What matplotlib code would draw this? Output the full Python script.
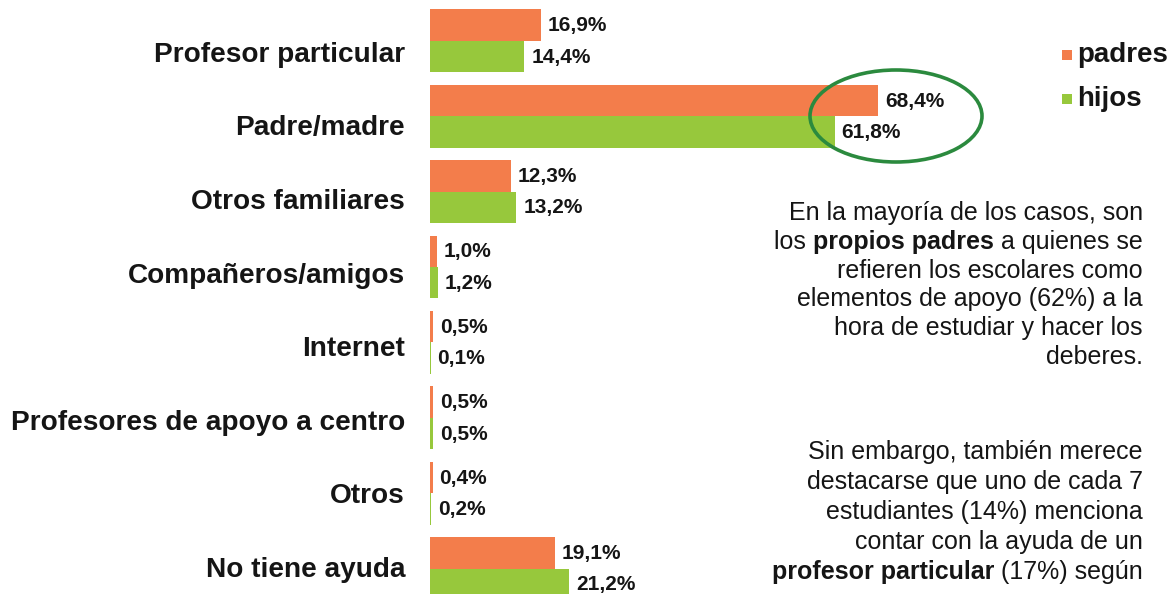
import matplotlib
matplotlib.use("Agg")
import matplotlib.pyplot as plt
from matplotlib.patches import Ellipse, Rectangle
import numpy as np

categories = ["Profesor particular", "Padre/madre", "Otros familiares",
              "Compañeros/amigos", "Internet", "Profesores de apoyo a centro",
              "Otros", "No tiene ayuda"]
padres = [16.9, 68.4, 12.3, 1.0, 0.5, 0.5, 0.4, 19.1]
hijos = [14.4, 61.8, 13.2, 1.2, 0.1, 0.5, 0.2, 21.2]
series_names = ["padres", "hijos"]

block1 = [
    [("En la mayoría de los casos, son", "normal")],
    [("los ", "normal"), ("propios padres", "bold"), (" a quienes se", "normal")],
    [("refieren los escolares como", "normal")],
    [("elementos de apoyo (62%) a la", "normal")],
    [("hora de estudiar y hacer los", "normal")],
    [("deberes.", "normal")],
]
block2 = [
    [("Sin embargo, también merece", "normal")],
    [("destacarse que uno de cada 7", "normal")],
    [("estudiantes (14%) menciona", "normal")],
    [("contar con la ayuda de un", "normal")],
    [("profesor particular", "bold"), (" (17%) según", "normal")],
]

ORANGE = "#F37D4B"
GREEN = "#97C83C"
ELLIPSE = "#2B8A3E"
TXT = "#151515"
FONT = "Liberation Sans"

W, H = 1170, 594
fig = plt.figure(figsize=(W / 100, H / 100), dpi=100)
fig.patch.set_facecolor("white")

# axes spans from x=430 px to right edge, full height
ax = fig.add_axes([430 / W, 0, 1 - 430 / W, 1])
px_per_unit_x = 6.55
ax.set_xlim(0, (W - 430) / px_per_unit_x)
group_px = 75.4
first_px = 40.7
ax.set_ylim((H - first_px) / group_px, -first_px / group_px)

n = len(categories)
idx = np.arange(n)
bh = 31.4 / group_px
ax.barh(idx - bh / 2, padres, height=bh, color=ORANGE, label=series_names[0])
ax.barh(idx + bh / 2, hijos, height=bh, color=GREEN, label=series_names[1])

def fmt(v):
    return f"{v:.1f}".replace(".", ",") + "%"

for i in range(n):
    for v, yc in ((padres[i], i - bh / 2), (hijos[i], i + bh / 2)):
        ax.annotate(fmt(v), xy=(v, yc), xytext=(5, -0.5), textcoords="offset points",
                    va="center", ha="left", fontsize=15, fontweight="bold",
                    family=FONT, color=TXT)

# category labels (positions in px from top, converted to data units)
label_px = 51.7 + idx * 73.6
label_pos = (label_px - first_px) / group_px
ax.set_yticks(label_pos)
ax.set_yticklabels(categories, fontsize=20.2, fontweight="bold", family=FONT, color=TXT)
ax.tick_params(axis="y", length=0, pad=18)
ax.set_xticks([])
for s in ax.spines.values():
    s.set_visible(False)

# ellipse highlight
fig.patches.append(Ellipse((896 / W, 1 - 116 / H), 172 / W, 92 / H,
                           transform=fig.transFigure, fill=False,
                           edgecolor=ELLIPSE, linewidth=2.6, zorder=10))

# legend
for k, (name, col, yc) in enumerate(((series_names[0], ORANGE, 55), (series_names[1], GREEN, 99))):
    fig.patches.append(Rectangle((1062 / W, 1 - (yc + 5) / H), 10 / W, 10 / H,
                                 transform=fig.transFigure, facecolor=col, edgecolor="none"))
    fig.text(1077 / W, 1 - yc / H, name, ha="left", va="center", fontsize=20,
             fontweight="bold", family=FONT, color=TXT)

renderer = fig.canvas.get_renderer()

def rich_line(x_right, y_base, pieces, size=18):
    x = x_right
    for text, w in reversed(pieces):
        t = fig.text(x / W, 1 - y_base / H, text, ha="right", va="baseline",
                     fontsize=size, fontweight=w, family=FONT, color=TXT)
        bb = t.get_window_extent(renderer)
        x = bb.x0

for j, line in enumerate(block1):
    rich_line(1143, 220 + j * 28.8, line)
for j, line in enumerate(block2):
    rich_line(1143, 459 + j * 30.0, line)

fig.savefig("out.png", dpi=100, facecolor="white")
